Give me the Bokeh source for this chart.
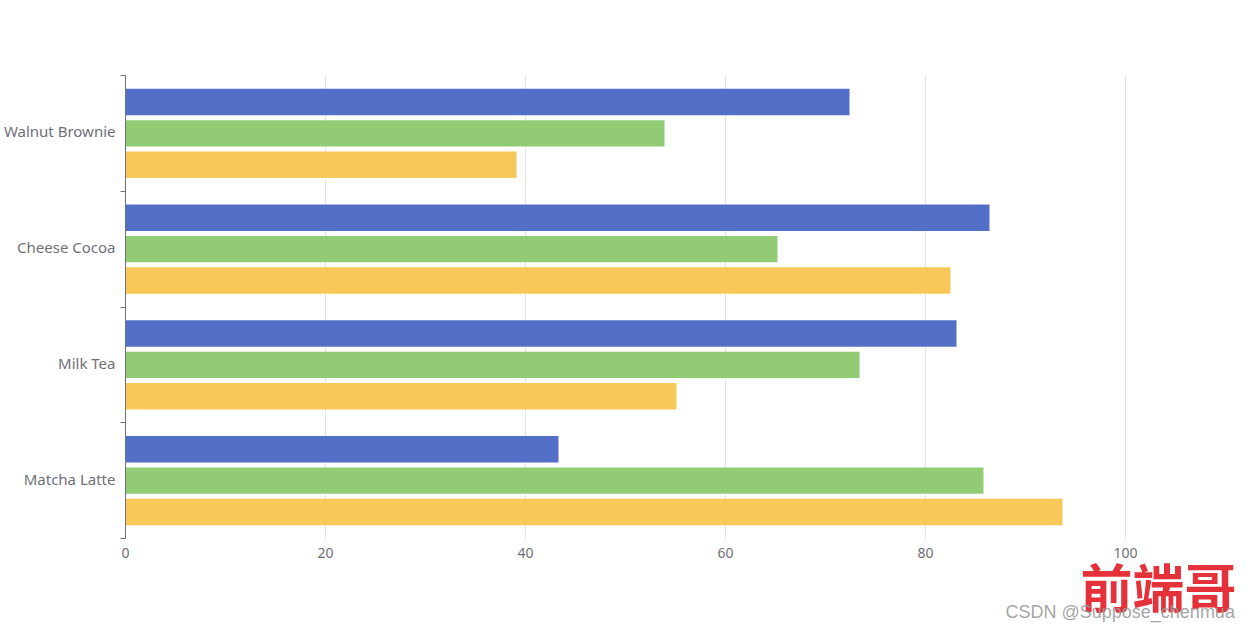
from bokeh.plotting import figure
from bokeh.models import FixedTicker, ColumnDataSource, Label
from bokeh.transform import dodge
from bokeh.embed import file_html
from bokeh.resources import INLINE

products = ["Matcha Latte", "Milk Tea", "Cheese Cocoa", "Walnut Brownie"]
s2015 = [43.3, 83.1, 86.4, 72.4]
s2016 = [85.8, 73.4, 65.2, 53.9]
s2017 = [93.7, 55.1, 82.5, 39.1]
x_ticks = [0, 20, 40, 60, 80, 100]
colors = ["#5470c6", "#91cc75", "#fac858"]
watermark_logo = "前端哥"
watermark_text = "CSDN @Suppose_chenmua"

n = len(products)
pos = [i + 0.5 for i in range(n)]
src = ColumnDataSource(dict(pos=pos, a=s2015, b=s2016, c=s2017))

W, H = 1250, 625
# plot area (grid) in pixels: left 125, right 1125, top 75, bottom 538
gl, gr, gt, gb = 125, 1125, 75, 538
xmin, xmax = x_ticks[0], x_ticks[-1]
xs = (xmax - xmin) / (gr - gl)
ys = n / (gb - gt)
x_range = (xmin - gl * xs, xmax + (W - gr) * xs)
y_range = (-(H - gb) * ys, n + gt * ys)

p = figure(width=W, height=H, x_range=x_range, y_range=y_range,
           output_backend="svg", toolbar_location=None,
           min_border_left=0, min_border_right=0,
           min_border_top=0, min_border_bottom=0)
p.outline_line_color = None
p.background_fill_color = "white"
p.border_fill_color = "white"
p.xgrid.visible = False
p.ygrid.visible = False

# vertical grid lines, spanning only the plot area
p.segment(x0=x_ticks, y0=[0] * len(x_ticks), x1=x_ticks, y1=[n] * len(x_ticks),
          line_color="#E0E6F1", line_width=1, level="underlay")

bh = 0.227
off = 0.271
for col, o, c in zip(["a", "b", "c"], [off, 0.0, -off], colors):
    p.hbar(y=dodge("pos", o, range=p.y_range), left=0, right=col, height=bh,
           fill_color=c, line_color=None, source=src)

# x axis (fixed at y = 0)
xa = p.xaxis[0]
xa.fixed_location = 0
xa.ticker = FixedTicker(ticks=x_ticks)
xa.axis_line_color = None
xa.major_tick_line_color = None
xa.minor_tick_line_color = None
xa.major_tick_out = 0
xa.major_tick_in = 0
xa.major_label_text_color = "#6E7079"
xa.major_label_text_font = "Noto Sans"
xa.major_label_text_font_size = "14px"
xa.major_label_standoff = 9

# y axis (fixed at x = 0)
label_pos = [pp + 0.018 for pp in pos]
ya = p.yaxis[0]
ya.fixed_location = 0
ya.bounds = (0, n)
ya.ticker = FixedTicker(ticks=label_pos, minor_ticks=list(range(n + 1)))
ya.major_label_overrides = {pp: name for pp, name in zip(label_pos, products)}
ya.axis_line_color = "#6E7079"
ya.major_tick_line_color = None
ya.major_tick_out = 0
ya.major_tick_in = 0
ya.minor_tick_line_color = "#6E7079"
ya.minor_tick_out = 5
ya.minor_tick_in = 0
ya.major_label_text_color = "#6E7079"
ya.major_label_text_font = "Noto Sans"
ya.major_label_text_font_size = "15px"
ya.major_label_standoff = 5

# watermark
p.add_layout(Label(x=95.5, y=-0.41, text=watermark_logo,
                   text_font="Noto Sans CJK SC", text_font_style="bold",
                   text_font_size="52px", text_color="#e5323a",
                   text_align="left", text_baseline="alphabetic"))
p.add_layout(Label(x=88.0, y=-0.639, text=watermark_text,
                   text_font="Liberation Sans", text_font_size="18px",
                   text_color="#9a9a9a", text_alpha=0.9,
                   text_align="left", text_baseline="alphabetic"))

open("out.html", "w").write(file_html(p, INLINE))
